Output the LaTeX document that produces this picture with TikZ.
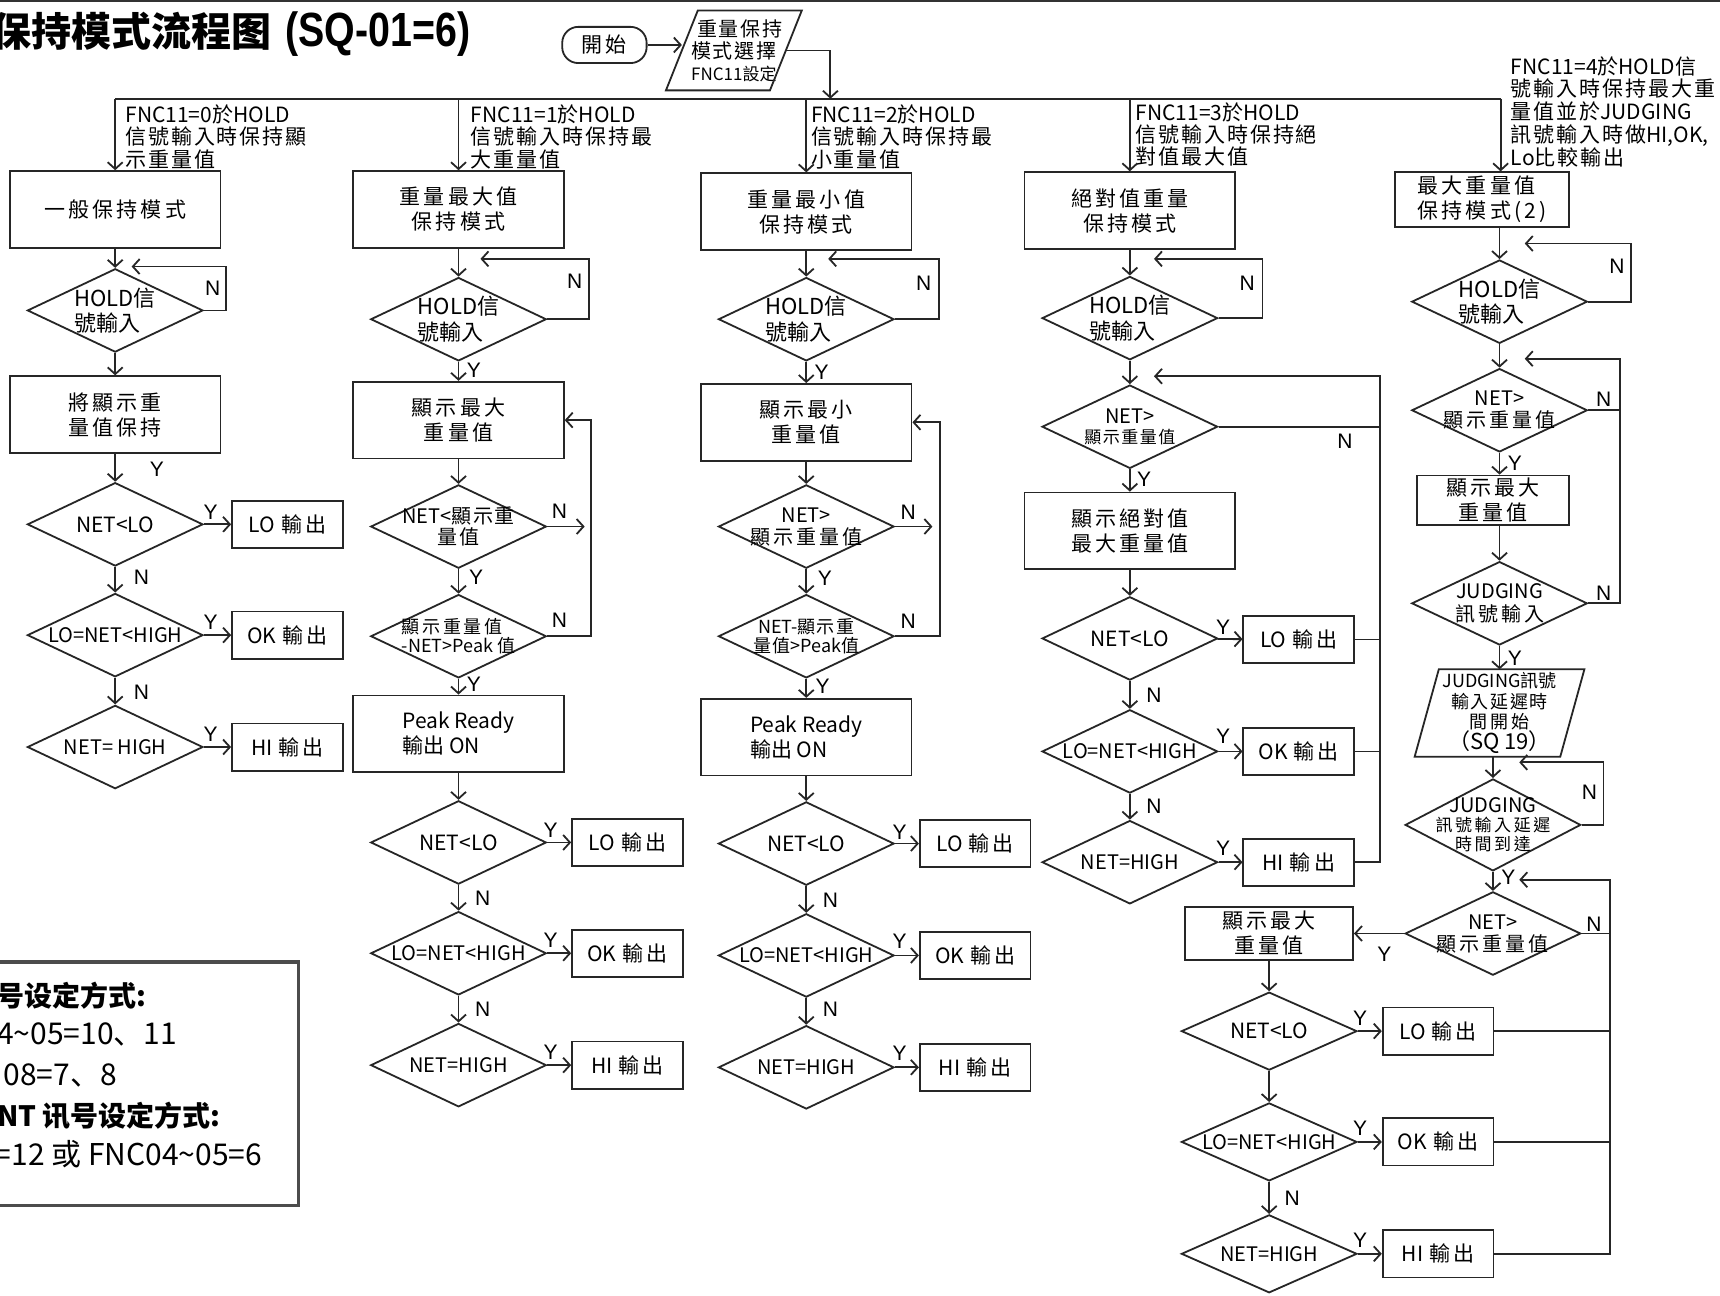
\documentclass[tikz,border=0pt]{standalone}
\usepackage{fontspec}
\usepackage{graphicx}
\setmainfont{Noto Sans CJK TC}
\newfontfamily\fTC{Noto Sans CJK TC}
\newfontfamily\fTCs[LetterSpace=15]{Noto Sans CJK TC}
\newfontfamily\fTCl[LetterSpace=9]{Noto Sans CJK TC}
\newfontfamily\fSC{Noto Sans CJK SC}
\newfontfamily\fAR{Liberation Sans}
\usetikzlibrary{shapes.geometric,arrows.meta,calc,fit}
\tikzset{
 ln/.style={line width=0.9pt, draw=black!85},
 arr/.style={ln, -{Straight Barb[length=3.4pt,width=7.5pt]}},
 box/.style={ln, draw, rectangle, inner sep=0pt, align=center, minimum width=105.3pt, minimum height=38.4pt, font=\fTCs\fontsize{10.5}{12.5}\selectfont},
 obox/.style={ln, draw, rectangle, inner sep=0pt, minimum width=55.4pt, minimum height=23.6pt, font=\fTC\fontsize{10.5}{12}\selectfont},
 dia/.style={ln, draw, diamond, inner sep=0pt, minimum width=87.8pt, minimum height=41.7pt},
 dtext/.style={inner sep=0pt, align=center, font=\fTC\fontsize{10.5}{12}\selectfont},
 yn/.style={inner sep=0pt, font=\fAR\fontsize{10.5}{12}\selectfont},
 fnc/.style={inner sep=0pt, anchor=north west, align=left, font=\fTC\fontsize{10.5}{11.2}\selectfont},
 hold/.style={align=left, font=\fTC\fontsize{11}{12.6}\selectfont},
 cmp/.style={font=\fTC\fontsize{10}{12}\selectfont},
 leg/.style={anchor=west, inner sep=0pt, font=\fSC\fontsize{15}{18}\selectfont},
}
\newcommand\Dia[4][]{\node[dia] (#2) at (#3) {}; \node[dtext,#1] (#2t) at (#2) {#4};}
\newcommand\Zs[1]{{\fTCl #1}}
\newcommand\Out[1]{#1\hspace{3pt}{\fTCs 輸出}}
\begin{document}
\begin{tikzpicture}[x=0.5485pt,y=-0.5485pt]
\useasboundingbox (0,0) rectangle (1568,1181);
\clip (0,0) rectangle (1568,1181);
\fill[white] (0,0) rectangle (1568,1181);
\draw[line width=1.4pt, black!80] (0,1) -- (1568,1);

% title
\node[anchor=west, inner sep=0pt, font=\fontsize{20}{24}\selectfont] (title) at (-8,31)
  {{\fSC\bfseries 保持模式流程图}\hspace{7pt}\scalebox{0.82}[1]{\fAR\fontsize{24}{24}\selectfont\bfseries (SQ-01=6)}};

% start
\node[ln, draw, rounded corners=8pt, minimum width=42.2pt, minimum height=18.1pt, inner sep=0pt,
      font=\fTCs\fontsize{10.5}{12}\selectfont] (st) at (551,41) {開始};
\node[inner sep=0pt, minimum width=51.6pt, minimum height=39.5pt, align=center,
      font=\fTCl\fontsize{10}{11}\selectfont] (p0) at (669,46)
      {\hspace{6pt}重量保持\\模式選擇\\{\fTC\fontsize{8.5}{11}\selectfont FNC11設定}\hspace{5pt}};
\draw[ln] ($(p0.south west)+(-14.5,0)$) -- ($(p0.north west)+(14.5,0)$) -- ($(p0.north east)+(14.5,0)$) -- ($(p0.south east)+(-14.5,0)$) -- cycle;
\draw[arr] (st.east) -- (st.east -| p0.west);
\coordinate (bj) at (757,90);
\draw[arr] (p0.east) -| (bj);

% bus
\coordinate (bs1) at (105,90);
\coordinate (bs2) at (418,90);
\coordinate (bs3) at (735,90);
\coordinate (bs4) at (1030,90);
\coordinate (bs5) at (1368,90);
\draw[ln] (bs1) -- (bs5);

% FNC labels
\node[fnc] (f1) at (114,95) {FNC11=0\Zs{於}HOLD\\\Zs{信號輸入時保持顯}\\\Zs{示重量值}};
\node[fnc] (f2) at (429,95) {FNC11=1\Zs{於}HOLD\\\Zs{信號輸入時保持最}\\\Zs{大重量值}};
\node[fnc] (f3) at (739,95) {FNC11=2\Zs{於}HOLD\\\Zs{信號輸入時保持最}\\\Zs{小重量值}};
\node[fnc] (f4) at (1035,93) {FNC11=3\Zs{於}HOLD\\\Zs{信號輸入時保持絕}\\\Zs{對值最大值}};
\node[fnc, font=\fTC\fontsize{10.5}{11.4}\selectfont] (f5) at (1377,51) {FNC11=4\Zs{於}HOLD\Zs{信}\\\Zs{號輸入時保持最大重}\\\Zs{量值並於}JUDGING\\\Zs{訊號輸入時做}HI,OK,\\Lo\Zs{比較輸出}};

% ---------- column 1
\node[box] (b11) at (105,191) {一般保持模式};
\Dia[hold]{d11}{105,283}{HOLD信\\號輸入}
\node[box] (b12) at (105,378) {將顯示重\\量值保持};
\Dia{d12}{105,478}{NET<LO}
\node[obox] (o11) at (262,478) {\Out{LO}};
\Dia[cmp]{d13}{105,579}{LO=NET<HIGH}
\node[obox] (o12) at (262,579) {\Out{OK}};
\Dia[cmp]{d14}{105,681}{NET= HIGH}
\node[obox] (o13) at (262,681) {\Out{HI}};
\coordinate (c11) at (120,243);
\draw[arr] (bs1) -- (bs1 |- b11.north);
\draw[arr] (b11) -- (d11);
\draw[arr] (d11.east) -- ++(20,0) |- (c11);
\draw[arr] (d11) -- (b12);
\draw[arr] (b12) -- (d12);
\draw[arr] (d12) -- (o11);
\draw[arr] (d12) -- (d13);
\draw[arr] (d13) -- (o12);
\draw[arr] (d13) -- (d14);
\draw[arr] (d14) -- (o13);

% ---------- column 2
\node[box] (b21) at (418,191) {重量最大值\\保持模式};
\Dia[hold]{d21}{418,291}{HOLD信\\號輸入}
\node[box] (b22) at (418,383) {顯示最大\\重量值};
\Dia[font=\fTC\fontsize{10}{10.8}\selectfont]{d22}{418,480}{NET<\Zs{顯示重}\\\Zs{量值}};
\Dia[align=left, font=\fTC\fontsize{9}{9.6}\selectfont]{d23}{418,580}{{\fTCs 顯示重量值}\\-NET>Peak 值}
\node[box, align=left, font=\fTC\fontsize{10.5}{12.5}\selectfont] (b23) at (418,669) {Peak Ready\\輸出 ON};
\Dia{d24}{418,768}{NET<LO}
\node[obox] (o21) at (572,768) {\Out{LO}};
\Dia[cmp]{d25}{418,869}{LO=NET<HIGH}
\node[obox] (o22) at (572,869) {\Out{OK}};
\Dia[cmp]{d26}{418,971}{NET=HIGH}
\node[obox] (o23) at (572,971) {\Out{HI}};
\coordinate (c21) at (438,236);
\coordinate (c22) at (533,480);
\draw[arr] (bs2) -- (bs2 |- b21.north);
\draw[arr] (b21) -- (d21);
\draw[arr] (d21.east) -- ++(38,0) |- (c21);
\draw[arr] (d21) -- (b22);
\draw[arr] (b22) -- (d22);
\draw[arr] (d22.east) -- (c22);
\draw[arr] (d22) -- (d23);
\draw[arr] (d23.east) -- ++(40,0) |- (b22.east);
\draw[arr] (d23) -- (b23);
\draw[arr] (b23) -- (d24);
\draw[arr] (d24) -- (o21);
\draw[arr] (d24) -- (d25);
\draw[arr] (d25) -- (o22);
\draw[arr] (d25) -- (d26);
\draw[arr] (d26) -- (o23);

% ---------- column 3
\node[box] (b31) at (735,193) {重量最小值\\保持模式};
\Dia[hold]{d31}{735,291}{HOLD信\\號輸入}
\node[box] (b32) at (735,385) {顯示最小\\重量值};
\Dia[font=\fTC\fontsize{10}{11}\selectfont]{d32}{735,480}{NET>\\{\fTCs 顯示重量值}}
\Dia[font=\fTC\fontsize{9}{9.4}\selectfont]{d33}{735,580}{NET-\Zs{顯示重}\\\Zs{量值}>Peak\Zs{值}}
\node[box, align=left, font=\fTC\fontsize{10.5}{12.5}\selectfont] (b33) at (735,672) {Peak Ready\\輸出 ON};
\Dia{d34}{735,769}{NET<LO}
\node[obox] (o31) at (889,769) {\Out{LO}};
\Dia[cmp]{d35}{735,871}{LO=NET<HIGH}
\node[obox] (o32) at (889,871) {\Out{OK}};
\Dia[cmp]{d36}{735,973}{NET=HIGH}
\node[obox] (o33) at (889,973) {\Out{HI}};
\coordinate (c31) at (755,236);
\coordinate (c32) at (850,480);
\draw[arr] (bs3) -- (bs3 |- b31.north);
\draw[arr] (b31) -- (d31);
\draw[arr] (d31.east) -- ++(40,0) |- (c31);
\draw[arr] (d31) -- (b32);
\draw[arr] (b32) -- (d32);
\draw[arr] (d32.east) -- (c32);
\draw[arr] (d32) -- (d33);
\draw[arr] (d33.east) -- ++(41,0) |- (b32.east);
\draw[arr] (d33) -- (b33);
\draw[arr] (b33) -- (d34);
\draw[arr] (d34) -- (o31);
\draw[arr] (d34) -- (d35);
\draw[arr] (d35) -- (o32);
\draw[arr] (d35) -- (d36);
\draw[arr] (d36) -- (o33);

% ---------- column 4
\node[box] (b41) at (1030,192) {絕對值重量\\保持模式};
\Dia[hold]{d41}{1030,290}{HOLD信\\號輸入}
\Dia[font=\fTC\fontsize{10}{10}\selectfont]{d42}{1030,389}{NET>\\{\fTCl\fontsize{8.5}{10}\selectfont 顯示重量值}}
\node[box] (b42) at (1030,484) {顯示絕對值\\最大重量值};
\Dia{d43}{1030,582}{NET<LO}
\node[obox] (o41) at (1184,583) {\Out{LO}};
\Dia[cmp]{d44}{1030,685}{LO=NET<HIGH}
\node[obox] (o42) at (1184,685) {\Out{OK}};
\Dia[cmp]{d45}{1030,786}{NET=HIGH}
\node[obox] (o43) at (1184,786) {\Out{HI}};
\coordinate (c41) at (1052,236);
\coordinate (r4) at (1258,343);
\coordinate (c42) at (1052,343);
\draw[arr] (bs4) -- (bs4 |- b41.north);
\draw[arr] (b41) -- (d41);
\draw[arr] (d41.east) -- ++(40,0) |- (c41);
\draw[arr] (d41) -- (d42);
\draw[arr] (d42) -- (b42);
\draw[arr] (b42) -- (d43);
\draw[arr] (d43) -- (o41);
\draw[arr] (d43) -- (d44);
\draw[arr] (d44) -- (o42);
\draw[arr] (d44) -- (d45);
\draw[arr] (d45) -- (o43);
\draw[arr] (o43.east) -| (r4) -- (c42);
\draw[ln] (o41.east) -- (o41.east -| r4);
\draw[ln] (o42.east) -- (o42.east -| r4);
\draw[ln] (d42.east) -- (d42.east -| r4);

% ---------- column 5
\node[box, minimum width=86.7pt, minimum height=27.4pt, align=left] (b51) at (1351,182) {最大重量值\\保持模式(2)};
\Dia[hold]{d51}{1367,275}{HOLD信\\號輸入}
\Dia[font=\fTC\fontsize{10}{11}\selectfont]{d52}{1367,374}{NET>\\{\fTCs 顯示重量值}}
\node[box, minimum width=75.7pt, minimum height=24.7pt] (b52) at (1361,456) {顯示最大\\重量值};
\Dia[font=\fTC\fontsize{10}{11.5}\selectfont]{d53}{1367,550}{JUDGING\\{\fTCs 訊號輸入}}
\node[inner sep=0pt, minimum width=72.4pt, minimum height=43.3pt, align=center,
      font=\fTC\fontsize{9}{10.2}\selectfont] (p5) at (1367,650)
      {JUDGING訊號\\{\fTCl 輸入延遲時}\\{\fTCs 間開始}\\{\fontsize{11}{11}\selectfont （SQ 19）}};
\draw[ln] ($(p5.south west)+(-11,0)$) -- ($(p5.north west)+(11,0)$) -- ($(p5.north east)+(11,0)$) -- ($(p5.south east)+(-11,0)$) -- cycle;
\node[dia, minimum height=46pt] (d54) at (1361,752) {};
\node[dtext, font=\fTC\fontsize{10}{9.6}\selectfont] (d54t) at (d54) {JUDGING\\{\fTCs\fontsize{8.5}{9.6}\selectfont 訊號輸入延遲}\\{\fTCs\fontsize{8.5}{9.6}\selectfont 時間到達}};
\Dia[font=\fTC\fontsize{10}{11}\selectfont]{d55}{1361,851}{NET>\\{\fTCs 顯示重量值}}
\node[box, minimum width=83.9pt, minimum height=26.3pt] (b53) at (1157,851) {顯示最大\\重量值};
\node[dia, minimum height=39pt] (d56) at (1157,940) {};
\node[dtext] (d56t) at (d56) {NET<LO};
\node[dia, minimum height=39pt] (d57) at (1157,1041) {};
\node[dtext, cmp] (d57t) at (d57) {LO=NET<HIGH};
\node[dia, minimum height=39pt] (d58) at (1157,1143) {};
\node[dtext, cmp] (d58t) at (d58) {NET=HIGH};
\node[obox] (o51) at (1311,940) {\Out{LO}};
\node[obox] (o52) at (1311,1041) {\Out{OK}};
\node[obox] (o53) at (1311,1143) {\Out{HI}};
\coordinate (c51) at (1390,222);
\coordinate (r5a) at (1477,327);
\coordinate (c52) at (1390,327);
\coordinate (c53) at (1385,695);
\coordinate (r5b) at (1468,802);
\coordinate (c54) at (1385,802);
\draw[arr] (bs5) -- (bs5 |- b51.north);
\draw[arr] (d51 |- b51.south) -- (d51.north);
\draw[arr] (d51.east) -- ++(39,0) |- (c51);
\draw[arr] (d51) -- (d52);
\draw[arr] (d52.south) -- (d52.south |- b52.north);
\draw[arr] (d53 |- b52.south) -- (d53.north);
\draw[arr] (d53.east) -| (r5a) -- (c52);
\draw[ln] (d52.east) -- (d52.east -| r5a);
\draw[arr] (d53) -- (p5);
\draw[arr] (d54 |- p5.south) -- (d54.north);
\draw[arr] (d54.east) -- ++(20,0) |- (c53);
\draw[arr] (d54) -- (d55);
\draw[arr] (d55.west) -- (b53.east);
\draw[arr] (b53) -- (d56);
\draw[arr] (d56) -- (o51);
\draw[arr] (d56) -- (d57);
\draw[arr] (d57) -- (o52);
\draw[arr] (d57) -- (d58);
\draw[arr] (d58) -- (o53);
\draw[arr] (o53.east) -| (r5b) -- (c54);
\draw[ln] (o51.east) -- (o51.east -| r5b);
\draw[ln] (o52.east) -- (o52.east -| r5b);
\draw[ln] (d55.east) -- (d55.east -| r5b);

% Y/N labels
\foreach \x/\y/\t [count=\i] in {
 194/263/N, 143/428/Y, 192/467/Y, 129/526/N, 192/567/Y, 129/631/N, 192/669/Y,
 524/256/N, 432/338/Y, 510/466/N, 434/526/Y, 510/565/N, 432/624/Y, 502/757/Y, 440/819/N, 502/857/Y, 440/920/N, 502/959/Y,
 842/258/N, 749/339/Y, 828/467/N, 752/527/Y, 828/566/N, 750/626/Y, 820/759/Y, 757/821/N, 820/858/Y, 757/920/N, 820/960/Y,
 1137/258/N, 1226/402/N, 1043/437/Y, 1115/572/Y, 1052/634/N, 1115/671/Y, 1052/735/N, 1115/773/Y,
 1474/243/N, 1462/364/N, 1381/422/Y, 1462/541/N, 1381/600/Y, 1449/722/N, 1375/800/Y, 1453/843/N, 1262/870/Y, 1240/928/Y, 1240/1029/Y, 1178/1092/N, 1240/1131/Y}
 \node[yn] (yn\i) at (\x,\y) {\t};

% legend
\node[draw=black!70, line width=1.6pt, inner sep=0pt, fit={(-20,877)(272,1099)}] (legbox) {};
\node[leg, font=\fSC\fontsize{14}{18}\selectfont] (lg1) at (-4,908) {\bfseries 号设定方式:};
\node[leg] (lg2) at (-3,943) {4\textasciitilde 05=10、11};
\node[leg] (lg3) at (3,980) {08=7、8};
\node[leg, font=\fSC\fontsize{14}{18}\selectfont] (lg4) at (-3,1017) {\bfseries NT 讯号设定方式:};
\node[leg] (lg5) at (-5,1052) {=12 或 FNC04\textasciitilde 05=6};
\end{tikzpicture}
\end{document}
